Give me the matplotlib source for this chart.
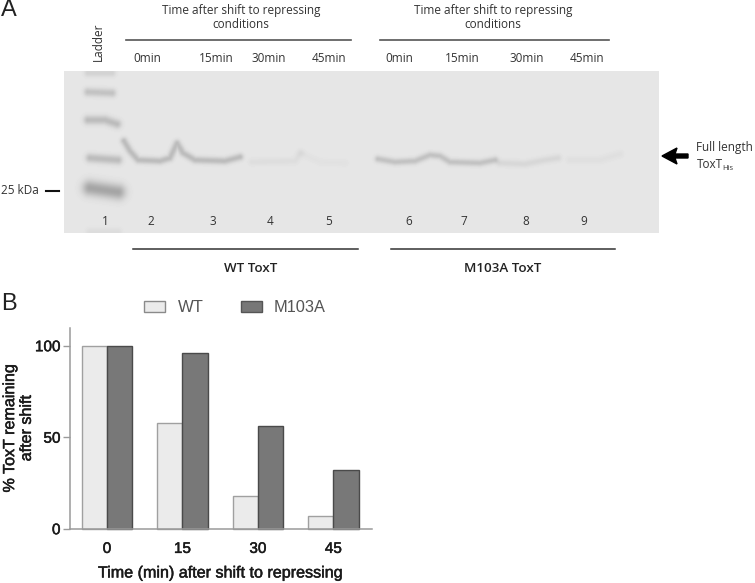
import numpy as np
import matplotlib
matplotlib.use('Agg')
import matplotlib.pyplot as plt
import matplotlib.patheffects as pe
from matplotlib.patches import Rectangle, Polygon

# ---- panel B data
times = ['0', '15', '30', '45']
wt_values = [100, 58, 18, 7]
m103a_values = [100, 96, 56, 32]
series_names = ['WT', 'M103A']

# ---- panel A labels
lane_numbers = ['1', '2', '3', '4', '5', '6', '7', '8', '9']
lane_x = [105, 151, 212.5, 270.5, 329, 408.5, 464, 525.5, 583.5]
wt_time_labels = ['0min', '15min', '30min', '45min']
wt_time_x = [147, 216, 268.5, 329]
mut_time_labels = ['0min', '15min', '30min', '45min']
mut_time_x = [399, 462, 527, 587]

# ---- blot bands: polyline (x, y) in pixels, darkness, blur
bands = [
    ([(88, 73), (112, 73)], 20, 2.8),
    ([(88, 92), (112, 93)], 36, 3.0),
    ([(88, 120), (105, 120), (117, 124)], 42, 3.2),
    ([(90, 158), (118, 160)], 42, 3.2),
    ([(90, 188), (118, 192)], 65, 5.5),
    ([(90, 232), (118, 232)], 10, 3.0),
    ([(124, 141), (130, 151), (138, 160), (160, 161), (170, 158), (177, 143), (183, 153), (195, 160), (225, 161), (240, 157)], 42, 2.5),
    ([(252, 162), (295, 161), (301, 153)], 9, 2.6),
    ([(300, 153), (320, 162), (345, 163)], 5, 2.6),
    ([(378, 159), (395, 162), (415, 161), (430, 155), (440, 156), (450, 162), (480, 163), (495, 160)], 36, 2.4),
    ([(500, 163), (525, 164), (545, 160), (558, 158)], 15, 2.6),
    ([(570, 160), (600, 160), (620, 154)], 7, 2.8),
]
blot_background = 230

fig = plt.figure(figsize=(7.55, 5.83), dpi=100, facecolor='white')

# ---- overlay in pixel coordinates
ov = fig.add_axes([0, 0, 1, 1])
ov.set_xlim(0, 755)
ov.set_ylim(583, 0)
ov.axis('off')

# blot image
bx0, bx1, by0, by1 = 64, 659, 71, 233
xx, yy = np.meshgrid(np.arange(bx0, bx1) + .5, np.arange(by0, by1) + .5)
img = np.full(xx.shape, float(blot_background))
for pts, dark, sig in bands:
    pts = np.array(pts, float)
    seg = np.hypot(*np.diff(pts, axis=0).T)
    s = np.r_[0, np.cumsum(seg)]
    t = np.arange(0, s[-1] + 1, 1.0)
    px, py = np.interp(t, s, pts[:, 0]), np.interp(t, s, pts[:, 1])
    d = np.zeros(xx.shape)
    for a, b in zip(px, py):
        d = np.maximum(d, np.exp(-((xx - a) ** 2 + (yy - b) ** 2) / (2 * sig ** 2)))
    img -= dark * d
ov.imshow(img, cmap='gray', vmin=0, vmax=255, extent=(bx0, bx1, by1, by0),
          interpolation='bilinear', aspect='auto', zorder=1)
ov.set_xlim(0, 755)
ov.set_ylim(583, 0)

FA = ['Open Sans', 'DejaVu Sans']
GEL = '#333333'
GS = 8.5
heavy = [pe.withStroke(linewidth=0.35, foreground='#1a1a1a')]
ov.text(1, 10, 'A', fontsize=17, family='Liberation Sans', color='#222222', va='center', ha='left', fontweight='light')
ov.text(1, 304, 'B', fontsize=17, family='Liberation Sans', color='#222222', va='center', ha='left')
ov.text(98.5, 42, 'Ladder', rotation=90, fontsize=GS, family=FA, color=GEL, ha='center', va='center')
for cx in (241, 493):
    ov.text(cx, 17.5, 'Time after shift to repressing\nconditions', fontsize=GS, family=FA, color=GEL,
            ha='center', va='center', linespacing=1.15)
ov.plot([126, 351], [40, 40], color='#555555', lw=1.2, zorder=3)
ov.plot([380, 609], [40, 40], color='#555555', lw=1.2, zorder=3)
for lbl, x in list(zip(wt_time_labels, wt_time_x)) + list(zip(mut_time_labels, mut_time_x)):
    ov.text(x, 58.5, lbl, fontsize=GS, family=FA, color=GEL, ha='center', va='center')
for lbl, x in zip(lane_numbers, lane_x):
    ov.text(x, 221.5, lbl, fontsize=GS, family=FA, color=GEL, ha='center', va='center', zorder=3)
ov.text(1, 191, '25 kDa', fontsize=GS, family=FA, color=GEL, ha='left', va='center')
ov.plot([46, 59], [191, 191], color='#111111', lw=1.5)
ov.plot([133, 358], [249, 249], color='#333333', lw=1.1)
ov.plot([391, 615], [249, 249], color='#333333', lw=1.1)
ov.text(250.5, 269, 'WT ToxT', fontsize=9.6, family=FA, color='#222222', ha='center', va='center', fontweight='semibold')
ov.text(503, 269, 'M103A ToxT', fontsize=9.6, family=FA, color='#222222', ha='center', va='center', fontweight='semibold')
ov.add_patch(Polygon([(662, 156), (677, 148), (675, 154), (688, 154), (688, 158), (675, 158), (677, 164)],
                     closed=True, color='black', zorder=3))
ov.text(696.5, 148, 'Full length', fontsize=GS, family=FA, color=GEL, ha='left', va='center')
ov.text(696.5, 165, 'ToxT', fontsize=GS, family=FA, color=GEL, ha='left', va='center')
ov.text(722, 168.5, 'His', fontsize=5.5, family=FA, color=GEL, ha='left', va='center')

# legend
ov.add_patch(Rectangle((144, 301), 21, 11, fc='#ebebeb', ec='#8a8a8a', lw=1))
ov.text(178, 307, series_names[0], fontsize=12, family='Liberation Sans', color='#555555', ha='left', va='center')
ov.add_patch(Rectangle((241, 301), 21, 11, fc='#777777', ec='#555555', lw=1))
ov.text(274, 307, series_names[1], fontsize=11.8, family='Liberation Sans', color='#555555', ha='left', va='center')

# ---- panel B
W, H = 755, 583
L, R, T, B = 69.5, 372, 327.5, 528.7
ax = fig.add_axes([L / W, 1 - B / H, (R - L) / W, (B - T) / H])
ax.patch.set_alpha(0)
y_top = (B - T) / (B - 345.7) * 100
ax.set_ylim(0, y_top)
pos = np.arange(len(times))
spacing = 75.45
ax.set_xlim((L - 107) / spacing, (R - 107) / spacing)
bw = 25.2 / spacing
ax.bar(pos - bw / 2, wt_values, bw, color='#ebebeb', edgecolor='#a0a0a0', linewidth=1.0, clip_on=False)
ax.bar(pos + bw / 2, m103a_values, bw, color='#787878', edgecolor='#4a4a4a', linewidth=1.0, clip_on=False)
for s in ('top', 'right'):
    ax.spines[s].set_visible(False)
for s in ('left', 'bottom'):
    ax.spines[s].set_color('#9a9a9a')
    ax.spines[s].set_linewidth(1.1)
ax.set_xticks(pos, times)
ax.set_yticks([0, 50, 100])
ax.tick_params(axis='x', length=0, pad=9.5, labelsize=11, labelcolor='#1a1a1a')
ax.tick_params(axis='y', length=5, width=1, color='#9a9a9a', pad=1.5, labelsize=11, labelcolor='#1a1a1a')
for t in ax.get_xticklabels() + ax.get_yticklabels():
    t.set_family('Liberation Sans')
    t.set_path_effects(heavy)
ov.text(221, 573, 'Time (min) after shift to repressing', fontsize=11.6, family='Liberation Sans',
        color='#1a1a1a', ha='center', va='center', path_effects=heavy)
ov.text(18, 428, '% ToxT remaining\nafter shift', rotation=90, fontsize=11.6, family='Liberation Sans',
        color='#1a1a1a', ha='center', va='center', linespacing=1.15, path_effects=heavy)

fig.savefig('out.png', dpi=100)
